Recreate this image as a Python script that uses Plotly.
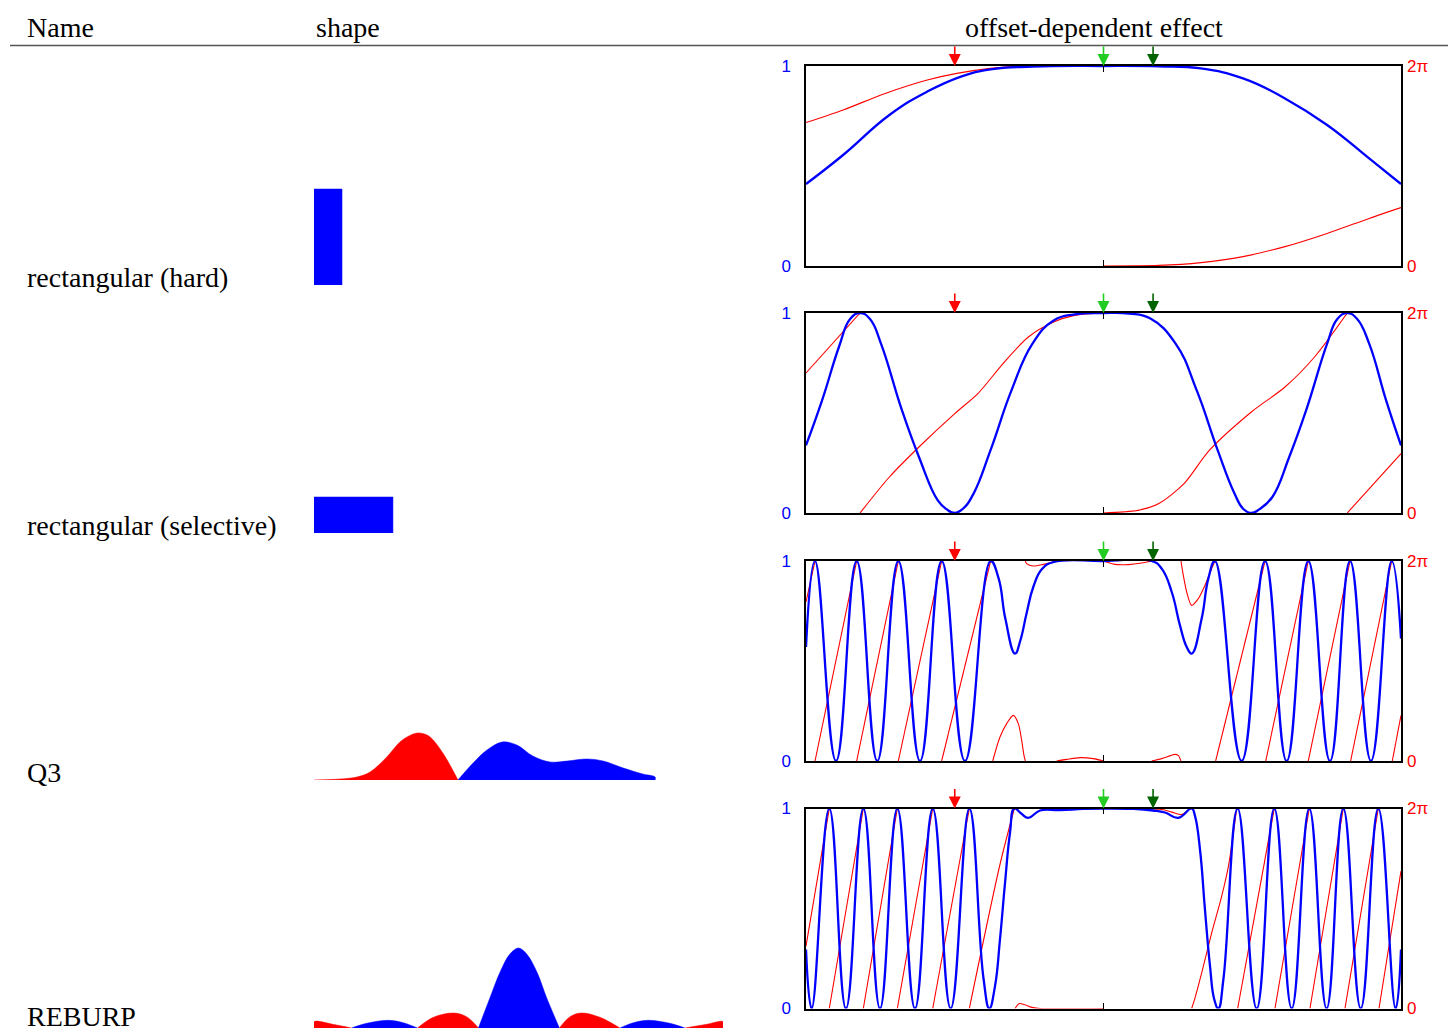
import plotly.graph_objects as go
import numpy as np

W, H = 1448, 1031

# ---------------- data ----------------
header_labels = ["Name", "shape", "offset-dependent effect"]
row_names = ["rectangular (hard)", "rectangular (selective)", "Q3", "REBURP"]

# pulse shapes: time (% of longest pulse) and signed amplitude (negative = red)
hard_t = [0, 0, 6.85, 6.85]
hard_a = [0, 0.96, 0.96, 0]
sel_t = [0, 0, 19.3, 19.3]
sel_a = [0, 0.36, 0.36, 0]
q3_t = [0, 6.4, 10.5, 13.7, 17.8, 21.0, 23.2, 25.2, 27.0, 28.4, 31.5, 35.2,
        38.9, 42.3, 46.0, 49.6, 53.5, 57.7, 61.9, 66.7, 70.7, 75.6, 80.4, 83.4, 83.4]
q3_a = [0, -0.01, -0.03, -0.08, -0.23, -0.38, -0.44, -0.47, -0.46, -0.43, -0.27, 0,
        0.17, 0.30, 0.38, 0.35, 0.24, 0.18, 0.19, 0.21, 0.19, 0.12, 0.06, 0.03, 0]
reburp_t = [0, 0, 4.6, 9.2, 12.9, 18.2, 21.8, 25.3, 29.2, 34.1, 37.3, 40.2,
            43.0, 45.5, 47.9, 50.0, 52.0, 54.5, 56.9, 60.0, 62.6, 65.4, 69.9, 74.8,
            78.1, 81.7, 87.0, 90.7, 96.0, 100, 100]
reburp_a = [0, -0.063, -0.037, 0, 0.047, 0.077, 0.053, 0, -0.107, -0.15, -0.113, 0,
            0.30, 0.56, 0.74, 0.80, 0.74, 0.56, 0.30, 0, -0.113, -0.15, -0.107, 0,
            0.053, 0.077, 0.047, 0, -0.037, -0.063, 0]

# offset-dependent magnitude (0..1) and phase (fraction of 2pi); None = wrap break
mag1_x = [-3.0, -2.626, -2.159, -1.777, -1.437, -1.140, -0.716, 0.0, 0.558, 0.982, 1.407, 1.83, 2.255, 2.679, 3.0]
mag1_y = [0.41, 0.555, 0.755, 0.872, 0.947, 0.983, 0.997, 1.0, 0.998, 0.988, 0.938, 0.838, 0.705, 0.538, 0.41]
ph1_x = [-3.0, -2.626, -2.201, -1.777, -1.479, -1.14, -0.885, -0.5, 0.0, None,
         0.0, 0.558, 0.982, 1.407, 1.83, 2.255, 2.679, 3.0]
ph1_y = [0.717, 0.78, 0.863, 0.93, 0.963, 0.988, 0.997, 1.0, 1.0, None,
         0.0, 0.003, 0.017, 0.047, 0.097, 0.163, 0.238, 0.292]

mag2_x = [-3.0, -2.838, -2.668, -2.555, -2.455, -2.355, -2.244, -2.032, -1.861, -1.671, -1.58, -1.5,
          -1.42, -1.31, -1.14, -0.928, -0.716, -0.503, -0.291, 0.0, 0.26, 0.473, 0.727, 0.94, 1.152,
          1.321, 1.41, 1.491, 1.57, 1.703, 1.873, 2.043, 2.255, 2.358, 2.458, 2.558, 2.679, 2.85, 3.0]
mag2_y = [0.338, 0.563, 0.83, 0.97, 1.0, 0.97, 0.847, 0.513, 0.28, 0.063, 0.018, 0.0,
          0.02, 0.097, 0.313, 0.613, 0.847, 0.963, 0.993, 1.0, 0.997, 0.972, 0.847, 0.613, 0.313,
          0.097, 0.02, 0.0, 0.018, 0.08, 0.28, 0.513, 0.847, 0.97, 1.0, 0.97, 0.847, 0.563, 0.338]
ph2_x = [-3.0, -2.455, None,
         -2.455, -2.159, -1.861, -1.5, -1.267, -1.013, -0.758, -0.503, -0.291, 0.0, None,
         0.0, 0.347, 0.558, 0.812, 1.067, 1.491, 1.83, 2.128, 2.458, None,
         2.458, 3.0]
ph2_y = [0.70, 1.0, None,
         0.0, 0.18, 0.33, 0.497, 0.597, 0.747, 0.88, 0.955, 0.988, 1.0, None,
         0.0, 0.013, 0.047, 0.147, 0.313, 0.505, 0.63, 0.78, 1.0, None,
         0.0, 0.297]

mag3_x = [-3.0, -2.909, -2.697, -2.489, -2.281, -2.069, -1.850, -1.632, -1.397, -1.138, -1.057, -0.99,
          -0.892, -0.84, -0.775, -0.708, -0.62, -0.5, 0.0, 0.486, 0.587, 0.688, 0.771, 0.839, 0.889,
          0.99, 1.057, 1.124, 1.393, 1.629, 1.847, 2.065, 2.284, 2.486, 2.697, 2.906, 3.0]
mag3_y = [0.57, 1.0, 0.0, 1.0, 0.0, 1.0, 0.0, 1.0, 0.0, 1.0, 0.912, 0.712,
          0.537, 0.6, 0.74, 0.87, 0.96, 0.995, 1.0, 1.0, 0.962, 0.845, 0.678, 0.57, 0.537,
          0.712, 0.912, 1.0, 0.0, 1.0, 0.0, 1.0, 0.0, 1.0, 0.0, 1.0, 0.612]
ph3_x = [-3.0, -2.909, None, -2.909, -2.489, None, -2.489, -2.069, None, -2.069, -1.632, None,
         -1.632, -1.138, None,
         -1.117, -1.044, -0.976, -0.909, -0.859, -0.825, -0.802, -0.788, None,
         -0.788, -0.775, -0.708, -0.607, -0.472, None,
         -0.472, -0.371, -0.237, -0.103, 0.0, None,
         0.0, 0.116, 0.25, 0.385, 0.486, None,
         0.486, 0.587, 0.721, 0.754, 0.781, None,
         0.781, 0.805, 0.839, 0.889, 0.956, 1.023, 1.091, 1.124, None,
         1.131, 1.629, None, 1.636, 2.065, None, 2.065, 2.486, None, 2.492, 2.906, None,
         2.912, 3.0]
ph3_y = [0.795, 1.0, None, 0.0, 1.0, None, 0.0, 1.0, None, 0.0, 1.0, None,
         0.0, 1.0, None,
         0.0, 0.12, 0.187, 0.228, 0.187, 0.103, 0.028, 0.0, None,
         1.0, 0.987, 0.975, 0.983, 1.0, None,
         0.0, 0.008, 0.017, 0.012, 0.0, None,
         1.0, 0.983, 0.982, 0.99, 1.0, None,
         0.0, 0.012, 0.033, 0.028, 0.0, None,
         1.0, 0.928, 0.845, 0.778, 0.812, 0.878, 0.962, 1.0, None,
         0.0, 1.0, None, 0.0, 1.0, None, 0.0, 1.0, None, 0.0, 1.0, None,
         0.0, 0.228]

mag4_x = [-3.0, -2.943, -2.765, -2.597, -2.422, -2.254, -2.079, -1.901, -1.722, -1.541, -1.353,
          -1.21, -1.151, -1.094, -1.044, -0.993, -0.943, -0.899, -0.83, -0.758, -0.64, -0.44, -0.2,
          0.0, 0.3, 0.5, 0.62, 0.754, 0.889, 0.923, 0.973, 1.023, 1.074, 1.117, 1.158, 1.21,
          1.353, 1.545, 1.722, 1.898, 2.075, 2.25, 2.418, 2.594, 2.771, 2.946, 3.0]
mag4_y = [0.295, 0.0, 1.0, 0.0, 1.0, 0.0, 1.0, 0.0, 1.0, 0.0, 1.0,
          0.15, 0.0, 0.112, 0.345, 0.628, 0.878, 1.0, 0.975, 0.953, 0.99, 0.992, 0.998,
          1.0, 0.998, 0.99, 0.98, 0.953, 1.0, 0.962, 0.795, 0.495, 0.212, 0.045, 0.0, 0.15,
          1.0, 0.0, 1.0, 0.0, 1.0, 0.0, 1.0, 0.0, 1.0, 0.0, 0.295]
ph4_x = [-3.0, -2.765, None, -2.765, -2.422, None, -2.422, -2.079, None, -2.079, -1.722, None,
         -1.722, -1.353, None, -1.353, -1.044, -0.899, None,
         -0.892, -0.85, -0.8, -0.741, -0.64, 0.0, None,
         0.0, 0.587, 0.688, 0.788, 0.855, 0.872, None,
         0.889, 0.923, 0.99, 1.091, 1.192, 1.26, 1.343, None,
         1.353, 1.722, None, 1.729, 2.075, None, 2.082, 2.418, None, 2.435, 2.771, None,
         2.778, 3.0]
ph4_y = [0.312, 1.0, None, 0.0, 1.0, None, 0.0, 1.0, None, 0.0, 1.0, None,
         0.0, 1.0, None, 0.0, 0.72, 1.0, None,
         0.0, 0.025, 0.02, 0.008, 0.0, 0.0, None,
         1.0, 0.995, 0.982, 0.97, 0.992, 1.0, None,
         0.0, 0.053, 0.178, 0.378, 0.562, 0.712, 1.0, None,
         0.0, 1.0, None, 0.0, 1.0, None, 0.0, 1.0, None, 0.0, 1.0, None,
         0.0, 0.687]

arrow_offsets = [-1.5, 0.0, 0.5]
arrow_colors = ["#ff0000", "#22cc22", "#006400"]

shapes_data = [(hard_t, hard_a, "linear"), (sel_t, sel_a, "linear"),
               (q3_t, q3_a, "spline"), (reburp_t, reburp_a, "spline")]
panels = [(mag1_x, mag1_y, ph1_x, ph1_y), (mag2_x, mag2_y, ph2_x, ph2_y),
          (mag3_x, mag3_y, ph3_x, ph3_y), (mag4_x, mag4_y, ph4_x, ph4_y)]

# ---------------- layout geometry (pixels) ----------------
panel_top = [66, 313, 561, 808.5]
panel_h = 200
px_left, px_right = 806, 1401
shape_left, shape_right = 314, 723
shape_base = [285, 533, 780, 1028]
shape_scale = 100
label_y = [277, 525, 772, 1016]


def pyp(p):
    return 1 - p / H


def split_lobes(t, a):
    segs = []
    cur = [(t[0], a[0])]
    for ti, ai in zip(t[1:], a[1:]):
        cur.append((ti, ai))
        if ai == 0:
            segs.append(cur)
            cur = [(ti, ai)]
    segs.append(cur)
    out = []
    for s in segs:
        vals = [v for _, v in s]
        nz = [v for v in vals if v != 0]
        if not nz:
            continue
        sign = 1 if nz[0] > 0 else -1
        out.append(([p for p, _ in s], [abs(v) for v in vals], sign))
    return out


def aid(n):
    return "" if n == 1 else str(n)


fig = go.Figure()
layout = dict(width=W, height=H, margin=dict(l=0, r=0, t=0, b=0, pad=0, autoexpand=False),
              plot_bgcolor="white", paper_bgcolor="white", showlegend=False,
              font=dict(family="Liberation Serif", size=28, color="black"))
annotations = []

# right panels
for i, (mx, my, phx, phy) in enumerate(panels):
    xn, yb, yr = i + 1, i + 1, i + 5
    dom_y = [pyp(panel_top[i] + panel_h), pyp(panel_top[i])]
    layout["xaxis" + aid(xn)] = dict(
        domain=[px_left / W, px_right / W], range=[-3, 3], anchor="y" + aid(yb),
        showline=True, linecolor="black", linewidth=1.5, mirror="ticks",
        ticks="inside", tickvals=[0], ticklen=6, tickcolor="black", tickwidth=1.2,
        showticklabels=False, showgrid=False, zeroline=False)
    layout["yaxis" + aid(yb)] = dict(
        domain=dom_y, range=[0, 1], anchor="x" + aid(xn),
        showline=True, linecolor="black", linewidth=1.5, mirror=True,
        tickvals=[0, 1], ticktext=["0", "1"], ticks="", ticklabelstandoff=10,
        tickfont=dict(family="Liberation Sans", size=17, color="#0000ff"),
        showgrid=False, zeroline=False)
    layout["yaxis" + aid(yr)] = dict(
        domain=dom_y, range=[0, 1], anchor="x" + aid(xn), overlaying="y" + aid(yb),
        side="right", showline=False, tickvals=[0, 1], ticktext=["0", "2π"], ticks="",
        ticklabelstandoff=5,
        tickfont=dict(family="Liberation Sans", size=17, color="#ff0000"),
        showgrid=False, zeroline=False)
    # phase on the base axis, magnitude on the overlay so blue is drawn on top
    fig.add_trace(go.Scatter(x=phx, y=phy, mode="lines", xaxis="x" + aid(xn), yaxis="y" + aid(yb),
                             line=dict(color="#ff0000", width=1.1, shape="spline", smoothing=0.8),
                             connectgaps=False, hoverinfo="skip"))
    fig.add_trace(go.Scatter(x=mx, y=my, mode="lines", xaxis="x" + aid(xn), yaxis="y" + aid(yr),
                             line=dict(color="#0000ff", width=2.3, shape="spline", smoothing=1.3),
                             hoverinfo="skip"))
    for pos, col in zip(arrow_offsets, arrow_colors):
        annotations.append(dict(x=pos, y=1, xref="x" + aid(xn), yref="y" + aid(yb) + " domain",
                                ax=0, ay=-21, showarrow=True, arrowhead=2, arrowsize=1.5,
                                arrowwidth=1.6, arrowcolor=col, text=""))

# pulse shapes
for i, (t, a, shp) in enumerate(shapes_data):
    xn, yn = i + 5, i + 9
    b = shape_base[i]
    layout["xaxis" + aid(xn)] = dict(domain=[shape_left / W, shape_right / W], range=[0, 100],
                                     anchor="y" + aid(yn), visible=False)
    layout["yaxis" + aid(yn)] = dict(domain=[pyp(b), pyp(b - shape_scale)], range=[0, 1],
                                     anchor="x" + aid(xn), visible=False)
    for lt, la, sign in split_lobes(t, a):
        col = "#0000ff" if sign > 0 else "#ff0000"
        fig.add_trace(go.Scatter(x=lt, y=la, mode="lines", fill="tozeroy", fillcolor=col,
                                 line=dict(color=col, width=0.5, shape=shp, smoothing=1.0),
                                 xaxis="x" + aid(xn), yaxis="y" + aid(yn), hoverinfo="skip"))

# header texts
header_x = [25, 314, 1094]
header_anchor = ["left", "left", "center"]
for txt, hx, anc in zip(header_labels, header_x, header_anchor):
    annotations.append(dict(text=txt, x=hx / W, y=pyp(27), xref="paper", yref="paper",
                            xanchor=anc, yanchor="middle", showarrow=False,
                            font=dict(family="Liberation Serif", size=28, color="black")))
for txt, ly in zip(row_names, label_y):
    annotations.append(dict(text=txt, x=25 / W, y=pyp(ly), xref="paper", yref="paper",
                            xanchor="left", yanchor="middle", showarrow=False,
                            font=dict(family="Liberation Serif", size=28, color="black")))

layout["annotations"] = annotations
layout["shapes"] = [dict(type="line", xref="paper", yref="paper", x0=10 / W, x1=1,
                         y0=pyp(45.5), y1=pyp(45.5), line=dict(color="#555555", width=1.5))]
fig.update_layout(**layout)

post = ("document.body.style.margin='0';document.body.style.padding='0';"
        "document.body.style.overflow='hidden';"
        "var d=document.getElementById('{plot_id}');d.style.position='absolute';"
        "d.style.left='0px';d.style.top='0px';")
fig.write_html("out.html", post_script=post, config={"displayModeBar": False})
